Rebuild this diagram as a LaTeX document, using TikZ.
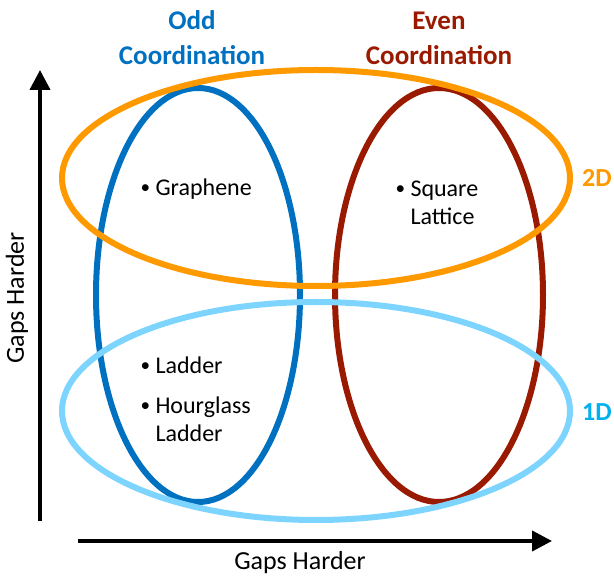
\documentclass[tikz,border=0pt]{standalone}
\usepackage{fontspec}
\setmainfont{Carlito}
\usetikzlibrary{arrows.meta}
\definecolor{oddblue}{HTML}{0070C0}
\definecolor{evenred}{HTML}{991A00}
\definecolor{twod}{HTML}{FF9900}
\definecolor{oned}{HTML}{7DD5FF}
\definecolor{onedtext}{HTML}{00B0F0}
\newcommand{\bul}{\raisebox{0.15ex}{\scalebox{0.8}{•}}\ }
\begin{document}
\begin{tikzpicture}[x=1pt,y=-1pt,
  ring/.style={line width=6pt},
  axis/.style={line width=4pt,-{Triangle[length=20pt,width=20pt]}},
  title/.style={font=\fontsize{27}{35}\selectfont\bfseries,align=center},
  body/.style={font=\fontsize{24}{28}\selectfont,anchor=west,align=left},
  dim/.style={font=\fontsize{26}{28}\selectfont\bfseries},
  axlab/.style={font=\fontsize{26}{28}\selectfont}]
\useasboundingbox (0,0) rectangle (614,577);
% vertical ellipses
\draw[ring,oddblue] (198,295) ellipse [x radius=102, y radius=207];
\draw[ring,evenred] (439,295) ellipse [x radius=104, y radius=207];
% horizontal ellipses
\draw[ring,twod] (316,178) ellipse [x radius=254, y radius=108];
\draw[ring,oned] (316,411) ellipse [x radius=254, y radius=109];
% axes
\coordinate (yb) at (40,521);
\coordinate (yt) at (40,70);
\coordinate (xl) at (78,541);
\coordinate (xr) at (552,541);
\draw[axis] (yb) -- (yt);
\draw[axis] (xl) -- (xr);
\node[axlab] (xlab) at (300,563) {Gaps Harder};
\node[axlab,rotate=90] (ylab) at (17,298) {Gaps Harder};
% titles
\node[title,text=oddblue] (odd) at (192,38) {Odd\\Coordination};
\node[title,text=evenred] (even) at (439,38) {Even\\Coordination};
\node[dim,text=twod] (d2) at (597,178) {2D};
\node[dim,text=onedtext] (d1) at (597,412) {1D};
% items
\node[body] (gr) at (137,189) {\bul Graphene};
\node[body] (sq) at (392,203) {\bul Square\\\phantom{\bul}Lattice};
\node[body] (la) at (137,365) {\bul Ladder};
\node[body] (hg) at (137,419) {\bul Hourglass\\\phantom{\bul}Ladder};
\end{tikzpicture}
\end{document}
